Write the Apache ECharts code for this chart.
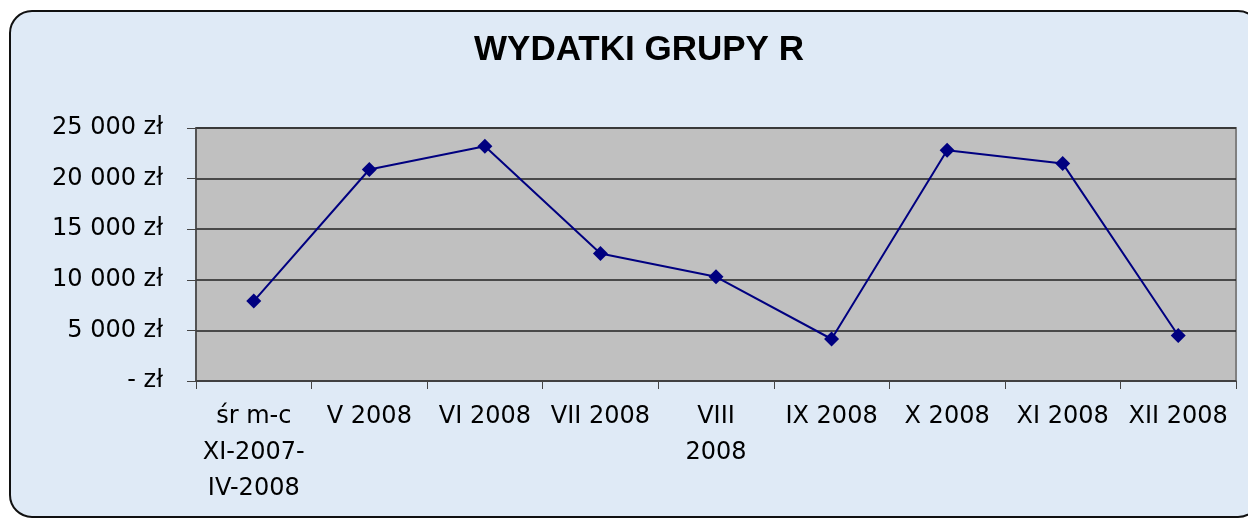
<!DOCTYPE html>
<html>
<head>
<meta charset="utf-8">
<script src="https://cdn.jsdelivr.net/npm/echarts@6/dist/echarts.min.js"></script>
<style>
html, body { margin:0; padding:0; background:#ffffff; }
#chart { width:1248px; height:520px; }
</style>
</head>
<body>
<div id="chart"></div>
<script>
var categories = ['śr m-c\nXI-2007-\nIV-2008', 'V 2008', 'VI 2008', 'VII 2008', 'VIII\n2008', 'IX 2008', 'X 2008', 'XI 2008', 'XII 2008'];
var values = [7900, 20900, 23200, 12600, 10300, 4150, 22800, 21500, 4500];
var yTicks = [0, 5000, 10000, 15000, 20000, 25000];

function fmtZl(v){
	if (v === 0) return '- zł';
	var s = String(v).replace(/\B(?=(\d{3})+(?!\d))/g, ' ');
	return s + ' zł';
}

var chart = echarts.init(document.getElementById('chart'));
var font = 'Liberation Sans, Arial, sans-serif';
var labelFont = 'DejaVu Sans, sans-serif';

var option = {
	backgroundColor: '#ffffff',
	animation: false,
	graphic: [
		{
			type: 'rect',
			z: -10,
			shape: { x: 10, y: 11, width: 1250, height: 506, r: 22 },
			style: { fill: '#dfeaf6', stroke: '#111111', lineWidth: 2 }
		}
	],
	title: {
		text: 'WYDATKI GRUPY R',
		left: 469,
		top: 28,
		textStyle: { fontFamily: font, fontSize: 35, fontWeight: 'bold', color: '#000000' }
	},
	grid: {
		left: 196, right: 12, top: 128, bottom: 139,
		show: true,
		backgroundColor: '#c0c0c0',
		borderColor: '#808080',
		borderWidth: 2
	},
	xAxis: {
		type: 'category',
		data: categories,
		boundaryGap: true,
		axisLine: { lineStyle: { color: '#444444', width: 1.5 } },
		axisTick: { show: true, length: 8, lineStyle: { color: '#444444' } },
		axisLabel: {
			interval: 0,
			margin: 18,
			fontFamily: labelFont,
			fontSize: 24,
			lineHeight: 36,
			color: '#000000'
		}
	},
	yAxis: {
		type: 'value',
		min: 0,
		max: 25000,
		interval: 5000,
		axisLine: { show: true, lineStyle: { color: '#444444', width: 1.5 } },
		axisTick: { show: true, length: 9, lineStyle: { color: '#444444' } },
		splitLine: { show: true, lineStyle: { color: '#222222', width: 1.5 } },
		axisLabel: {
			margin: 33,
			fontFamily: labelFont,
			fontSize: 24,
			color: '#000000',
			formatter: fmtZl
		}
	},
	series: [
		{
			type: 'line',
			data: values,
			symbol: 'diamond',
			symbolSize: 15,
			lineStyle: { color: '#000080', width: 2 },
			itemStyle: { color: '#000080' }
		}
	]
};

chart.setOption(option);
</script>
</body>
</html>
